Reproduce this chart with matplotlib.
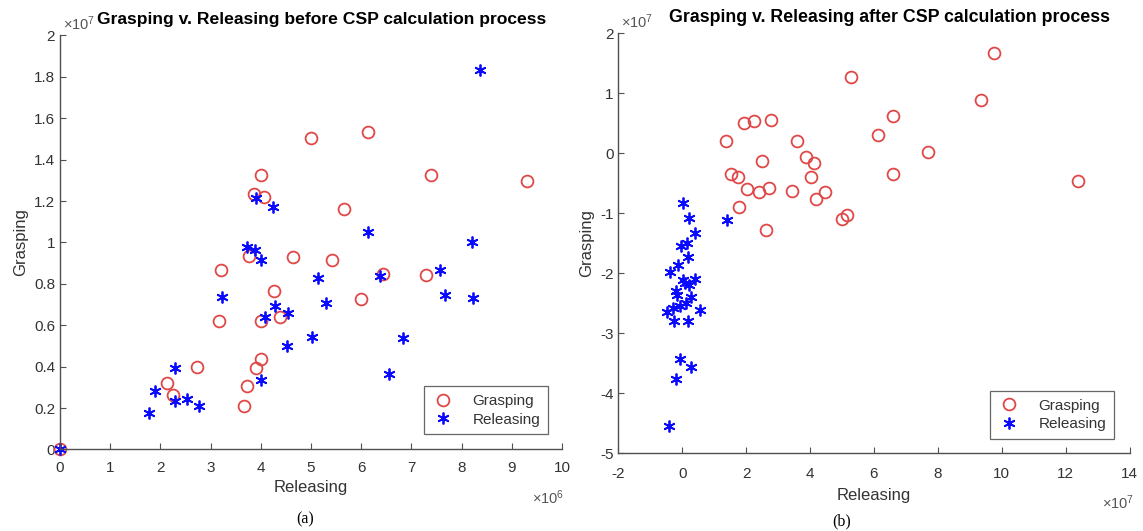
import matplotlib
matplotlib.use("Agg")
import matplotlib.pyplot as plt

# values in displayed units: left x in 1e6, left y in 1e7, right x/y in 1e7
before_grasp_x = [0, 3.21, 3.16, 2.72, 2.13, 2.25, 3.66, 3.72, 3.91, 4.01, 4.01, 4.27, 4.39,
                  5.0, 4.0, 3.86, 4.06, 3.76, 4.65, 5.41, 6.14, 7.39, 9.30, 5.66, 6.43, 7.29, 6.0]
before_grasp_y = [0, 0.866, 0.62, 0.40, 0.32, 0.265, 0.21, 0.307, 0.394, 0.435, 0.62, 0.766, 0.64,
                  1.505, 1.325, 1.232, 1.219, 0.933, 0.93, 0.917, 1.534, 1.325, 1.296, 1.163, 0.85, 0.843, 0.726]

before_rel_x = [0, 1.77, 1.89, 2.30, 2.30, 2.53, 2.77, 3.23, 4.01, 4.08, 4.28, 4.54, 4.53, 5.02, 5.14,
                5.30, 4.0, 3.91, 4.24, 3.72, 3.88, 6.14, 8.21, 6.37, 7.57, 7.66, 8.23, 6.84, 6.55, 8.37]
before_rel_y = [0, 0.178, 0.284, 0.394, 0.236, 0.244, 0.212, 0.739, 0.336, 0.641, 0.692, 0.657, 0.50, 0.545, 0.83,
                0.71, 0.917, 1.213, 1.173, 0.978, 0.965, 1.05, 1.004, 0.837, 0.866, 0.744, 0.733, 0.54, 0.365, 1.835]

after_grasp_x = [1.37, 1.94, 2.25, 2.77, 3.58, 2.50, 3.87, 4.13, 1.51, 1.75, 4.02, 2.04, 2.40, 2.70, 3.43,
                 4.20, 4.47, 1.77, 5.0, 5.15, 2.61, 5.27, 9.77, 9.36, 6.59, 6.12, 7.70, 6.59, 12.38]
after_grasp_y = [0.20, 0.50, 0.54, 0.56, 0.20, -0.13, -0.06, -0.16, -0.35, -0.40, -0.40, -0.60, -0.64, -0.57, -0.62,
                 -0.76, -0.64, -0.89, -1.09, -1.03, -1.28, 1.28, 1.67, 0.89, 0.63, 0.30, 0.03, -0.34, -0.46]

after_rel_x = [1.39, 0.01, 0.22, 0.40, 0.16, -0.05, 0.19, -0.13, -0.39, 0.01, 0.08, 0.40, 0.22, -0.20,
               -0.16, 0.26, 0.11, -0.07, -0.28, -0.49, 0.56, -0.26, 0.19, -0.07, 0.26, -0.20, -0.41]
after_rel_y = [-1.11, -0.83, -1.07, -1.32, -1.50, -1.55, -1.72, -1.86, -1.98, -2.11, -2.16, -2.10, -2.19, -2.30,
               -2.36, -2.39, -2.50, -2.55, -2.58, -2.64, -2.61, -2.80, -2.80, -3.43, -3.56, -3.76, -4.55]

left_xticks = list(range(0, 11))
left_yticks = [0, 0.2, 0.4, 0.6, 0.8, 1, 1.2, 1.4, 1.6, 1.8, 2]
right_xticks = list(range(-2, 15, 2))
right_yticks = list(range(-5, 3))

plt.rcParams['font.family'] = ['Liberation Sans Narrow', 'Liberation Sans', 'DejaVu Sans']
plt.rcParams['mathtext.default'] = 'regular'

RED = '#e04848'
BLUE = '#0a0aff'
GRAY = '#505050'
asterisk = (6, 2, 0)

fig = plt.figure(figsize=(11.43, 5.31), dpi=100)
ax1 = fig.add_axes([0.0525, 0.1535, 0.4392, 0.7797])
ax2 = fig.add_axes([0.541, 0.146, 0.4473, 0.791])


def style(ax, xt, yt, xlim, ylim, xpad, lpad):
    ax.set_xlim(*xlim)
    ax.set_ylim(*ylim)
    ax.set_xticks(xt)
    ax.set_yticks(yt)
    ax.set_xticklabels(['%g' % v for v in xt])
    ax.set_yticklabels(['%g' % v for v in yt])
    for s in ['top', 'right']:
        ax.spines[s].set_visible(False)
    for s in ['left', 'bottom']:
        ax.spines[s].set_color(GRAY)
        ax.spines[s].set_linewidth(1.0)
    ax.tick_params(direction='in', length=4, color=GRAY, labelcolor='#333333', labelsize=11)
    ax.tick_params(axis='x', pad=xpad)
    ax.set_xlabel('Releasing', fontsize=12, color='#333333', labelpad=lpad)
    ax.set_ylabel('Grasping', fontsize=12, color='#333333')


for ax, gx, gy, rx, ry in [(ax1, before_grasp_x, before_grasp_y, before_rel_x, before_rel_y),
                           (ax2, after_grasp_x, after_grasp_y, after_rel_x, after_rel_y)]:
    ax.plot(gx, gy, 'o', mfc='none', mec=RED, ms=8.5, mew=1.3, label='Grasping', clip_on=False)
    ax.plot(rx, ry, linestyle='none', marker=asterisk, color=BLUE, ms=8.5, mew=1.3, label='Releasing',
            clip_on=False)

style(ax1, left_xticks, left_yticks, (0, 10), (0, 2), 8, 4)
style(ax2, right_xticks, right_yticks, (-2, 14), (-5, 2), 10, 5)

for ax, anchor in [(ax1, (0.972, 0.037)), (ax2, (0.9695, 0.0345))]:
    leg = ax.legend(loc='lower right', bbox_to_anchor=anchor, borderaxespad=0, fontsize=11,
                    frameon=True, fancybox=False, edgecolor='#404040', handletextpad=1.2,
                    borderpad=0.5, labelspacing=0.3, handlelength=1.5)
    leg.get_frame().set_linewidth(0.9)
    for t in leg.get_texts():
        t.set_color('#333333')

ax1.set_title('Grasping v. Releasing before CSP calculation process', fontsize=12.6,
              fontweight='bold', family=['Liberation Sans', 'DejaVu Sans'], x=0.522, pad=8)
ax2.set_title('Grasping v. Releasing after CSP calculation process', fontsize=12.8,
              fontweight='bold', family=['Liberation Sans', 'DejaVu Sans'], x=0.531, pad=8)

# exponent labels
ax1.text(0.005, 1.005, r'$\times10^{7}$', transform=ax1.transAxes, fontsize=10.5, color='#555555', va='bottom')
ax2.text(0.005, 1.005, r'$\times10^{7}$', transform=ax2.transAxes, fontsize=10.5, color='#555555', va='bottom')
ax1.text(0.94, -0.095, r'$\times10^{6}$', transform=ax1.transAxes, fontsize=10.5, color='#555555', va='top')
ax2.text(0.945, -0.095, r'$\times10^{7}$', transform=ax2.transAxes, fontsize=10.5, color='#555555', va='top')

fig.text(305 / 1143, 1 - 519 / 531, '(a)', ha='center', va='center', fontsize=11.5,
         family=['Liberation Serif', 'DejaVu Serif'])
fig.text(842 / 1143, 1 - 521 / 531, '(b)', ha='center', va='center', fontsize=11.5,
         family=['Liberation Serif', 'DejaVu Serif'])

fig.savefig('out.png', dpi=100)
